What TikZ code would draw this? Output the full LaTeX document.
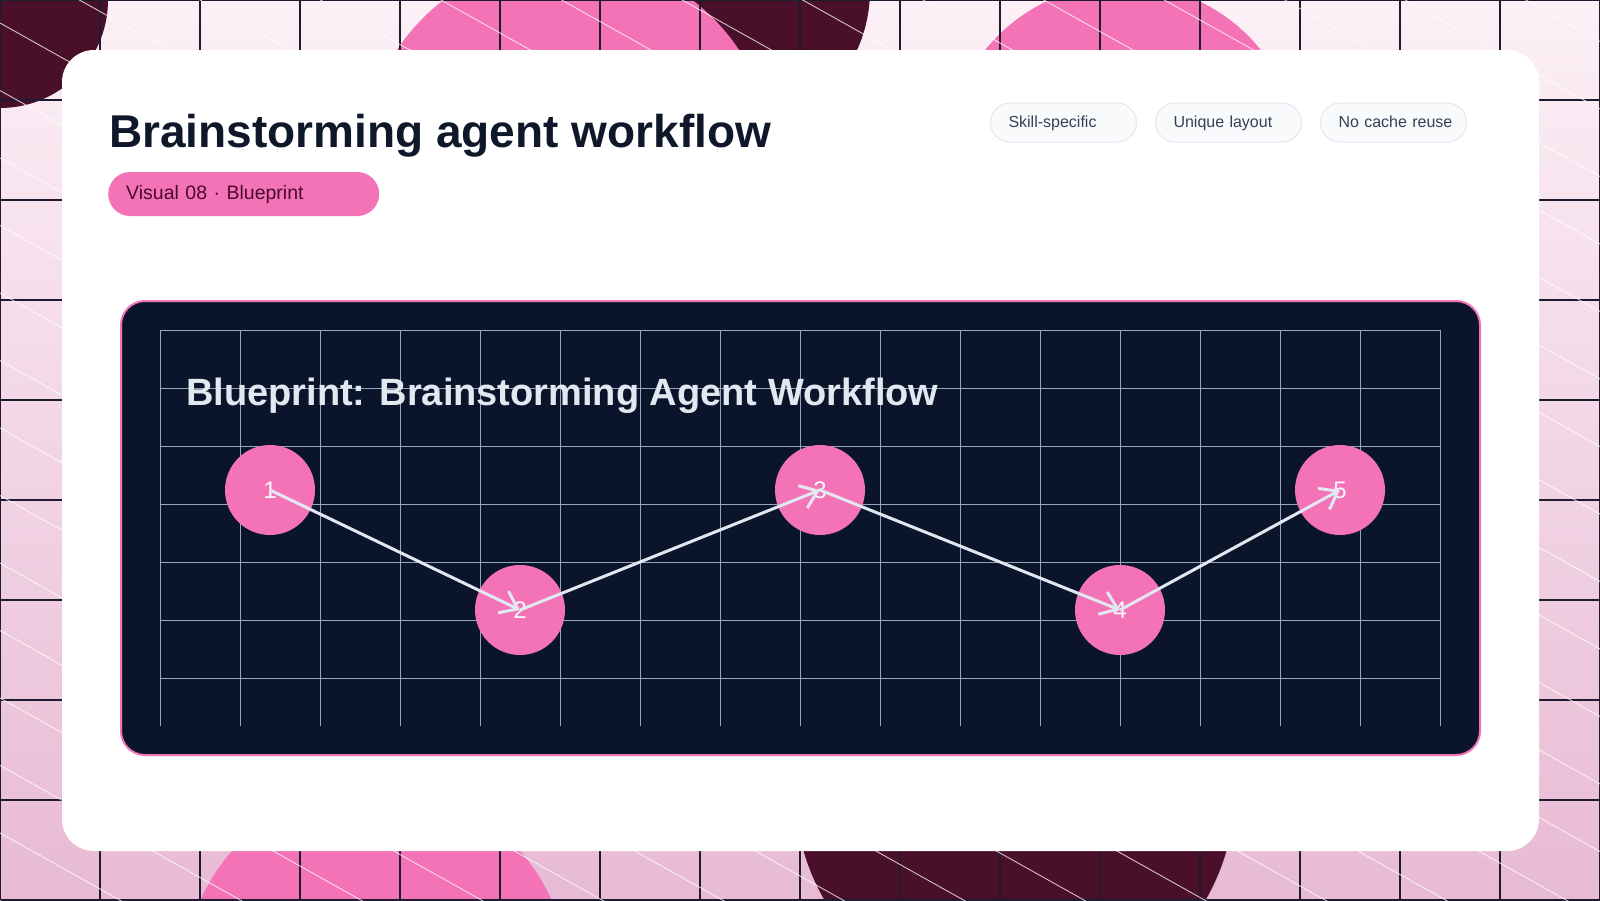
\documentclass[tikz,border=0pt]{standalone}
\usepackage{fontspec}
\setmainfont{Liberation Sans}
\usetikzlibrary{arrows.meta}
\definecolor{bgtop}{HTML}{FCF0F6}
\definecolor{bgbot}{HTML}{E8BAD4}
\definecolor{blobpink}{HTML}{F472B6}
\definecolor{blobdark}{HTML}{4A1029}
\definecolor{bggrid}{HTML}{1E1B30}
\definecolor{titlecol}{HTML}{0F172A}
\definecolor{pilltext}{HTML}{4A0B2A}
\definecolor{chipfill}{HTML}{F8FAFC}
\definecolor{chipline}{HTML}{E2E8F0}
\definecolor{chiptext}{HTML}{334155}
\definecolor{panelfill}{HTML}{0A152B}
\definecolor{panelgrid}{HTML}{94A5BE}
\definecolor{paneltext}{HTML}{E2E8F0}
\definecolor{flowcol}{HTML}{E2E8F0}
\definecolor{nodetext}{HTML}{F8FAFC}
\tikzset{
  bgline/.style={draw=bggrid, line width=1.2pt},
  diagline/.style={draw=white, line width=0.9pt, opacity=0.75},
  chip/.style={draw=chipline, line width=1pt, fill=chipfill, rounded corners=19.5pt,
    minimum height=39pt, text width=128pt, inner xsep=9pt, inner ysep=0pt, align=left,
    anchor=west, text=chiptext, font=\fontsize{16}{16}\selectfont,
    execute at begin node=\hspace*{9pt}\rule[-3pt]{0pt}{16pt}},
  pill/.style={fill=blobpink, rounded corners=22pt, minimum height=44pt, text width=235pt,
    inner xsep=18pt, inner ysep=0pt, align=left, anchor=west, text=pilltext,
    font=\fontsize{19.5}{19.5}\selectfont, execute at begin node=\rule[-4pt]{0pt}{20pt}},
  gridline/.style={draw=panelgrid, line width=0.9pt},
  stepnode/.style={circle, fill=blobpink, minimum size=90pt, inner sep=0pt,
    text=nodetext, font=\fontsize{24}{24}\selectfont},
  flow/.style={draw=flowcol, line width=3pt, -{Straight Barb[length=16pt,width=24pt,line width=3pt]}}
}
\begin{document}
\begin{tikzpicture}[x=1pt,y=-1pt]
\useasboundingbox (0,0) rectangle (1600,900);
% background
\shade[top color=bgtop, bottom color=bgbot] (0,0) rectangle (1600,900);
\begin{scope}
\clip (0,0) rectangle (1600,900);
\fill[blobdark] (0,0) circle[radius=108];
\fill[blobdark] (725,-10) circle[radius=145];
\fill[blobpink] (568,163) circle[radius=205];
\fill[blobpink] (1123,161) circle[radius=177];
\fill[blobpink] (376,978) circle[radius=192];
\fill[blobdark] (1015,790) circle[radius=220];
\foreach \i in {0,100,...,1600} \draw[bgline] (\i,0) -- (\i,900);
\foreach \j in {0,100,...,900} \draw[bgline] (0,\j) -- (1600,\j);
\foreach \k in {-14,...,13} \draw[diagline] (0,{23+67.5*\k}) -- (1600,{23+67.5*\k+896});
\end{scope}
% card
\fill[white, rounded corners=32pt] (62,50) rectangle (1539,851);
\node[anchor=base west, inner sep=0pt, text=titlecol, font=\bfseries\fontsize{46}{46}\selectfont] (title) at (109,147) {Brainstorming agent workflow};
\node[pill] (tag) at (108,194) {Visual 08 · Blueprint};
\node[chip] (c1) at (990,122.5) {Skill-specific};
\node[chip] (c2) at (1155,122.5) {Unique layout};
\node[chip] (c3) at (1320,122.5) {No cache reuse};
% panel
\draw[draw=blobpink, line width=2pt, fill=panelfill, rounded corners=24pt] (121,301) rectangle (1480,755);
\foreach \i in {160,240,...,1440} \draw[gridline] (\i,330) -- (\i,726);
\foreach \j in {330,388,...,678} \draw[gridline] (160,\j) -- (1440,\j);
\node[anchor=base west, inner sep=0pt, text=paneltext, font=\bfseries\fontsize{38}{38}\selectfont] (ptitle) at (186,405) {Blueprint: Brainstorming Agent Workflow};
% nodes
\node[stepnode] (n1) at (270,490) {1};
\node[stepnode] (n2) at (520,610) {2};
\node[stepnode] (n3) at (820,490) {3};
\node[stepnode] (n4) at (1120,610) {4};
\node[stepnode] (n5) at (1340,490) {5};
\draw[flow] (n1.center) -- (n2.center);
\draw[flow] (n2.center) -- (n3.center);
\draw[flow] (n3.center) -- (n4.center);
\draw[flow] (n4.center) -- (n5.center);
\end{tikzpicture}
\end{document}
